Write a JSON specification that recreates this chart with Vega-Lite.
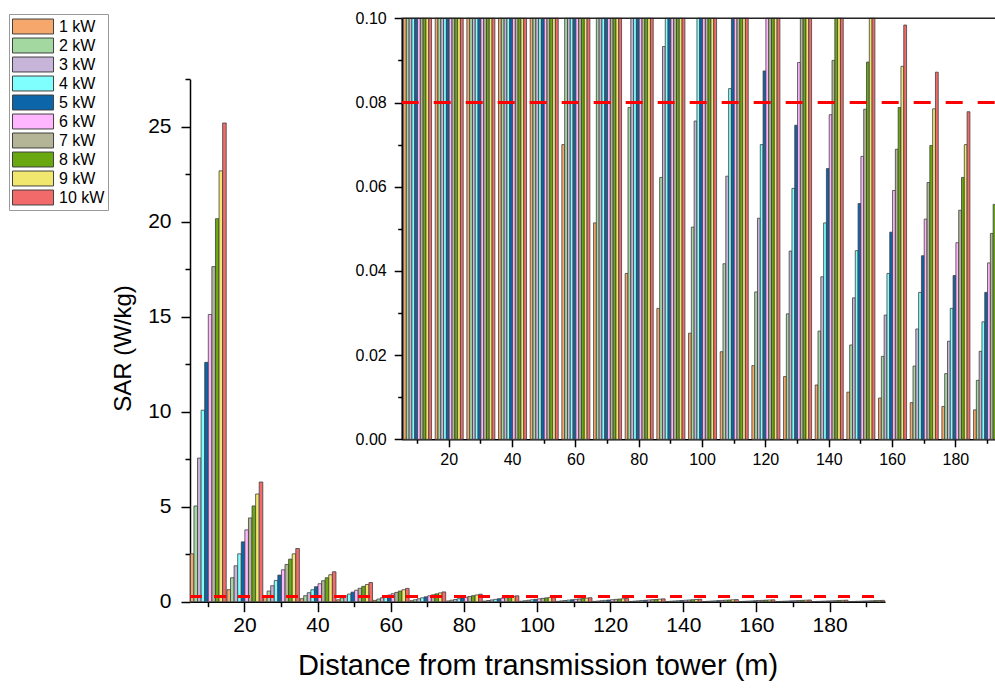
{
"$schema": "https://vega.github.io/schema/vega-lite/v6.json",
"width": 995, "height": 689,
"autosize": {"type": "none"},
"padding": 0,
"background": "white",
"config": {"view": {"stroke": null}, "font": "Liberation Sans",
  "axis": {"labelFont": "Liberation Sans", "titleFont": "Liberation Sans", "labelColor": "black", "titleColor": "black", "domainColor": "black", "tickColor": "black", "domainWidth": 1.5, "tickWidth": 1.5, "grid": false, "titleFontWeight": "normal"}},
"data": {"values": [
{"d":10,"p":"1 kW","sar":2.52},{"d":10,"p":"2 kW","sar":5.04},{"d":10,"p":"3 kW","sar":7.56},{"d":10,"p":"4 kW","sar":10.08},{"d":10,"p":"5 kW","sar":12.6},{"d":10,"p":"6 kW","sar":15.12},{"d":10,"p":"7 kW","sar":17.64},{"d":10,"p":"8 kW","sar":20.16},{"d":10,"p":"9 kW","sar":22.68},{"d":10,"p":"10 kW","sar":25.2},
{"d":20,"p":"1 kW","sar":0.63},{"d":20,"p":"2 kW","sar":1.26},{"d":20,"p":"3 kW","sar":1.89},{"d":20,"p":"4 kW","sar":2.52},{"d":20,"p":"5 kW","sar":3.15},{"d":20,"p":"6 kW","sar":3.78},{"d":20,"p":"7 kW","sar":4.41},{"d":20,"p":"8 kW","sar":5.04},{"d":20,"p":"9 kW","sar":5.67},{"d":20,"p":"10 kW","sar":6.3},
{"d":30,"p":"1 kW","sar":0.28},{"d":30,"p":"2 kW","sar":0.56},{"d":30,"p":"3 kW","sar":0.84},{"d":30,"p":"4 kW","sar":1.12},{"d":30,"p":"5 kW","sar":1.4},{"d":30,"p":"6 kW","sar":1.68},{"d":30,"p":"7 kW","sar":1.96},{"d":30,"p":"8 kW","sar":2.24},{"d":30,"p":"9 kW","sar":2.52},{"d":30,"p":"10 kW","sar":2.8},
{"d":40,"p":"1 kW","sar":0.158},{"d":40,"p":"2 kW","sar":0.315},{"d":40,"p":"3 kW","sar":0.473},{"d":40,"p":"4 kW","sar":0.63},{"d":40,"p":"5 kW","sar":0.788},{"d":40,"p":"6 kW","sar":0.945},{"d":40,"p":"7 kW","sar":1.103},{"d":40,"p":"8 kW","sar":1.26},{"d":40,"p":"9 kW","sar":1.418},{"d":40,"p":"10 kW","sar":1.575},
{"d":50,"p":"1 kW","sar":0.101},{"d":50,"p":"2 kW","sar":0.202},{"d":50,"p":"3 kW","sar":0.302},{"d":50,"p":"4 kW","sar":0.403},{"d":50,"p":"5 kW","sar":0.504},{"d":50,"p":"6 kW","sar":0.605},{"d":50,"p":"7 kW","sar":0.706},{"d":50,"p":"8 kW","sar":0.806},{"d":50,"p":"9 kW","sar":0.907},{"d":50,"p":"10 kW","sar":1.008},
{"d":60,"p":"1 kW","sar":0.07},{"d":60,"p":"2 kW","sar":0.14},{"d":60,"p":"3 kW","sar":0.21},{"d":60,"p":"4 kW","sar":0.28},{"d":60,"p":"5 kW","sar":0.35},{"d":60,"p":"6 kW","sar":0.42},{"d":60,"p":"7 kW","sar":0.49},{"d":60,"p":"8 kW","sar":0.56},{"d":60,"p":"9 kW","sar":0.63},{"d":60,"p":"10 kW","sar":0.7},
{"d":70,"p":"1 kW","sar":0.0514},{"d":70,"p":"2 kW","sar":0.1029},{"d":70,"p":"3 kW","sar":0.1543},{"d":70,"p":"4 kW","sar":0.2057},{"d":70,"p":"5 kW","sar":0.2571},{"d":70,"p":"6 kW","sar":0.3086},{"d":70,"p":"7 kW","sar":0.36},{"d":70,"p":"8 kW","sar":0.4114},{"d":70,"p":"9 kW","sar":0.4629},{"d":70,"p":"10 kW","sar":0.5143},
{"d":80,"p":"1 kW","sar":0.0394},{"d":80,"p":"2 kW","sar":0.0788},{"d":80,"p":"3 kW","sar":0.1181},{"d":80,"p":"4 kW","sar":0.1575},{"d":80,"p":"5 kW","sar":0.1969},{"d":80,"p":"6 kW","sar":0.2363},{"d":80,"p":"7 kW","sar":0.2756},{"d":80,"p":"8 kW","sar":0.315},{"d":80,"p":"9 kW","sar":0.3544},{"d":80,"p":"10 kW","sar":0.3938},
{"d":90,"p":"1 kW","sar":0.0311},{"d":90,"p":"2 kW","sar":0.0622},{"d":90,"p":"3 kW","sar":0.0933},{"d":90,"p":"4 kW","sar":0.1244},{"d":90,"p":"5 kW","sar":0.1556},{"d":90,"p":"6 kW","sar":0.1867},{"d":90,"p":"7 kW","sar":0.2178},{"d":90,"p":"8 kW","sar":0.2489},{"d":90,"p":"9 kW","sar":0.28},{"d":90,"p":"10 kW","sar":0.3111},
{"d":100,"p":"1 kW","sar":0.0252},{"d":100,"p":"2 kW","sar":0.0504},{"d":100,"p":"3 kW","sar":0.0756},{"d":100,"p":"4 kW","sar":0.1008},{"d":100,"p":"5 kW","sar":0.126},{"d":100,"p":"6 kW","sar":0.1512},{"d":100,"p":"7 kW","sar":0.1764},{"d":100,"p":"8 kW","sar":0.2016},{"d":100,"p":"9 kW","sar":0.2268},{"d":100,"p":"10 kW","sar":0.252},
{"d":110,"p":"1 kW","sar":0.0208},{"d":110,"p":"2 kW","sar":0.0417},{"d":110,"p":"3 kW","sar":0.0625},{"d":110,"p":"4 kW","sar":0.0833},{"d":110,"p":"5 kW","sar":0.1041},{"d":110,"p":"6 kW","sar":0.125},{"d":110,"p":"7 kW","sar":0.1458},{"d":110,"p":"8 kW","sar":0.1666},{"d":110,"p":"9 kW","sar":0.1874},{"d":110,"p":"10 kW","sar":0.2083},
{"d":120,"p":"1 kW","sar":0.0175},{"d":120,"p":"2 kW","sar":0.035},{"d":120,"p":"3 kW","sar":0.0525},{"d":120,"p":"4 kW","sar":0.07},{"d":120,"p":"5 kW","sar":0.0875},{"d":120,"p":"6 kW","sar":0.105},{"d":120,"p":"7 kW","sar":0.1225},{"d":120,"p":"8 kW","sar":0.14},{"d":120,"p":"9 kW","sar":0.1575},{"d":120,"p":"10 kW","sar":0.175},
{"d":130,"p":"1 kW","sar":0.0149},{"d":130,"p":"2 kW","sar":0.0298},{"d":130,"p":"3 kW","sar":0.0447},{"d":130,"p":"4 kW","sar":0.0596},{"d":130,"p":"5 kW","sar":0.0746},{"d":130,"p":"6 kW","sar":0.0895},{"d":130,"p":"7 kW","sar":0.1044},{"d":130,"p":"8 kW","sar":0.1193},{"d":130,"p":"9 kW","sar":0.1342},{"d":130,"p":"10 kW","sar":0.1491},
{"d":140,"p":"1 kW","sar":0.0129},{"d":140,"p":"2 kW","sar":0.0257},{"d":140,"p":"3 kW","sar":0.0386},{"d":140,"p":"4 kW","sar":0.0514},{"d":140,"p":"5 kW","sar":0.0643},{"d":140,"p":"6 kW","sar":0.0771},{"d":140,"p":"7 kW","sar":0.09},{"d":140,"p":"8 kW","sar":0.1029},{"d":140,"p":"9 kW","sar":0.1157},{"d":140,"p":"10 kW","sar":0.1286},
{"d":150,"p":"1 kW","sar":0.0112},{"d":150,"p":"2 kW","sar":0.0224},{"d":150,"p":"3 kW","sar":0.0336},{"d":150,"p":"4 kW","sar":0.0448},{"d":150,"p":"5 kW","sar":0.056},{"d":150,"p":"6 kW","sar":0.0672},{"d":150,"p":"7 kW","sar":0.0784},{"d":150,"p":"8 kW","sar":0.0896},{"d":150,"p":"9 kW","sar":0.1008},{"d":150,"p":"10 kW","sar":0.112},
{"d":160,"p":"1 kW","sar":0.0098},{"d":160,"p":"2 kW","sar":0.0197},{"d":160,"p":"3 kW","sar":0.0295},{"d":160,"p":"4 kW","sar":0.0394},{"d":160,"p":"5 kW","sar":0.0492},{"d":160,"p":"6 kW","sar":0.0591},{"d":160,"p":"7 kW","sar":0.0689},{"d":160,"p":"8 kW","sar":0.0788},{"d":160,"p":"9 kW","sar":0.0886},{"d":160,"p":"10 kW","sar":0.0984},
{"d":170,"p":"1 kW","sar":0.0087},{"d":170,"p":"2 kW","sar":0.0174},{"d":170,"p":"3 kW","sar":0.0262},{"d":170,"p":"4 kW","sar":0.0349},{"d":170,"p":"5 kW","sar":0.0436},{"d":170,"p":"6 kW","sar":0.0523},{"d":170,"p":"7 kW","sar":0.061},{"d":170,"p":"8 kW","sar":0.0698},{"d":170,"p":"9 kW","sar":0.0785},{"d":170,"p":"10 kW","sar":0.0872},
{"d":180,"p":"1 kW","sar":0.0078},{"d":180,"p":"2 kW","sar":0.0156},{"d":180,"p":"3 kW","sar":0.0233},{"d":180,"p":"4 kW","sar":0.0311},{"d":180,"p":"5 kW","sar":0.0389},{"d":180,"p":"6 kW","sar":0.0467},{"d":180,"p":"7 kW","sar":0.0544},{"d":180,"p":"8 kW","sar":0.0622},{"d":180,"p":"9 kW","sar":0.07},{"d":180,"p":"10 kW","sar":0.0778},
{"d":190,"p":"1 kW","sar":0.007},{"d":190,"p":"2 kW","sar":0.014},{"d":190,"p":"3 kW","sar":0.0209},{"d":190,"p":"4 kW","sar":0.0279},{"d":190,"p":"5 kW","sar":0.0349},{"d":190,"p":"6 kW","sar":0.0419},{"d":190,"p":"7 kW","sar":0.0489},{"d":190,"p":"8 kW","sar":0.0558},{"d":190,"p":"9 kW","sar":0.0628},{"d":190,"p":"10 kW","sar":0.0698}
]},
"layer": [
{
 "mark": {"type": "bar", "stroke": "#404040", "strokeWidth": 0.8},
 "encoding": {
  "x": {"field": "d", "type": "ordinal",
    "scale": {"domain": [10,20,30,40,50,60,70,80,90,100,110,120,130,140,150,160,170,180,190], "range": [190, 885], "paddingInner": 0, "paddingOuter": 0},
    "axis": {"orient": "bottom", "offset": -87.3, "bandPosition": 0.5, "labelAngle": 0, "labelFontSize": 21, "labelPadding": 3,
      "labelExpr": "datum.value % 20 === 0 ? datum.label : ''",
      "tickSize": {"condition": {"test": "datum.value % 20 === 0", "value": 10}, "value": 5},
      "title": "Distance from transmission tower (m)", "titleFontSize": 29, "titlePadding": 16}},
  "xOffset": {"field": "p", "type": "nominal",
    "scale": {"domain": ["1 kW","2 kW","3 kW","4 kW","5 kW","6 kW","7 kW","8 kW","9 kW","10 kW"], "paddingInner": 0, "paddingOuter": 0.1}},
  "y": {"field": "sar", "type": "quantitative",
    "scale": {"domain": [0, 27.5], "range": [601.7, 79.3], "nice": false, "zero": true},
    "axis": {"orient": "left", "offset": -190, "values": [0,2.5,5,7.5,10,12.5,15,17.5,20,22.5,25,27.5],
      "labelExpr": "datum.value % 5 === 0 ? format(datum.value, 'd') : ''",
      "tickSize": {"condition": {"test": "datum.value % 5 === 0", "value": 9}, "value": 5},
      "labelFontSize": 21, "labelPadding": 10,
      "title": "SAR (W/kg)", "titleFontSize": 24, "titlePadding": 12, "titleY": 348}},
  "color": {"field": "p", "type": "nominal",
    "scale": {"domain": ["1 kW","2 kW","3 kW","4 kW","5 kW","6 kW","7 kW","8 kW","9 kW","10 kW"],
      "range": ["#F5A76C","#A3D9A0","#C6B5D8","#80FFFF","#0C65A8","#FFB6FF","#B4B496","#6AA812","#F2E76E","#F26A6A"]},
    "legend": {"orient": "none", "legendX": 9, "legendY": 14, "title": null,
      "symbolType": "M-1,-0.83H3.56V0.83H-1Z", "symbolSize": 324, "symbolStrokeColor": "#404040", "symbolStrokeWidth": 1, "symbolOpacity": 1,
      "labelFontSize": 16, "labelFont": "Liberation Sans", "labelColor": "black", "labelOffset": 28, "rowPadding": 0,
      "strokeColor": "#999999", "padding": 3, "fillColor": "white"}}
 }
},
{
 "data": {"values": [{"limit": 0.28}]},
 "mark": {"type": "rule", "color": "#FF0000", "strokeWidth": 3, "strokeDash": [12, 12]},
 "encoding": {
  "x": {"datum": 5, "type": "quantitative", "scale": {"domain": [5, 195], "range": [190, 885], "nice": false, "zero": false}, "axis": null},
  "x2": {"datum": 195},
  "y": {"field": "limit", "type": "quantitative", "scale": {"domain": [0, 27.5], "range": [601.7, 79.3], "nice": false}, "axis": null}
 }
},
{
 "mark": {"type": "bar", "stroke": "#404040", "strokeWidth": 0.8},
 "encoding": {
  "x": {"field": "d", "type": "ordinal",
    "scale": {"domain": [10,20,30,40,50,60,70,80,90,100,110,120,130,140,150,160,170,180,190], "range": [401.7, 1003.4], "paddingInner": 0, "paddingOuter": 0},
    "axis": {"orient": "bottom", "offset": -249.7, "bandPosition": 0.5, "labelAngle": 0, "labelFontSize": 16, "labelPadding": 5, "domain": true,
      "labelExpr": "datum.value % 20 === 0 ? datum.label : ''",
      "tickSize": {"condition": {"test": "datum.value % 20 === 0", "value": 7.5}, "value": 4},
      "title": null}},
  "xOffset": {"field": "p", "type": "nominal",
    "scale": {"domain": ["1 kW","2 kW","3 kW","4 kW","5 kW","6 kW","7 kW","8 kW","9 kW","10 kW"], "paddingInner": 0, "paddingOuter": 0.65}},
  "y": {"field": "sar", "type": "quantitative",
    "scale": {"domain": [0, 0.1], "range": [439.3, 18.3], "nice": false, "clamp": true},
    "axis": {"orient": "left", "offset": -401.7, "values": [0,0.01,0.02,0.03,0.04,0.05,0.06,0.07,0.08,0.09,0.1],
      "labelExpr": "round(datum.value*100) % 2 === 0 ? format(datum.value, '.2f') : ''",
      "tickSize": {"condition": {"test": "round(datum.value*100) % 2 === 0", "value": 7.5}, "value": 4},
      "labelFontSize": 16, "labelPadding": 8, "title": null}},
  "color": {"field": "p", "type": "nominal",
    "scale": {"domain": ["1 kW","2 kW","3 kW","4 kW","5 kW","6 kW","7 kW","8 kW","9 kW","10 kW"],
      "range": ["#F5A76C","#A3D9A0","#C6B5D8","#80FFFF","#0C65A8","#FFB6FF","#B4B496","#6AA812","#F2E76E","#F26A6A"]},
    "legend": null}
 }
},
{
 "data": {"values": [{"limit": 0.08}]},
 "mark": {"type": "rule", "color": "#FF0000", "strokeWidth": 3, "strokeDash": [17, 15]},
 "encoding": {
  "x": {"datum": 5, "type": "quantitative", "scale": {"domain": [5, 195], "range": [401.7, 1003.4], "nice": false, "zero": false}, "axis": null},
  "x2": {"datum": 195},
  "y": {"field": "limit", "type": "quantitative", "scale": {"domain": [0, 0.1], "range": [439.3, 18.3], "nice": false}, "axis": null}
 }
},
{
 "data": {"values": [{"top": 0.1}]},
 "mark": {"type": "rule", "color": "#222222", "strokeWidth": 1.5},
 "encoding": {
  "x": {"datum": 5, "type": "quantitative", "scale": {"domain": [5, 195], "range": [401.7, 1003.4], "nice": false, "zero": false}, "axis": null},
  "x2": {"datum": 195},
  "y": {"field": "top", "type": "quantitative", "scale": {"domain": [0, 0.1], "range": [439.3, 18.3], "nice": false}, "axis": null}
 }
}
],
"resolve": {"scale": {"x": "independent", "y": "independent", "xOffset": "independent", "color": "independent"}, "axis": {"x": "independent", "y": "independent"}, "legend": {"color": "independent"}}
}
